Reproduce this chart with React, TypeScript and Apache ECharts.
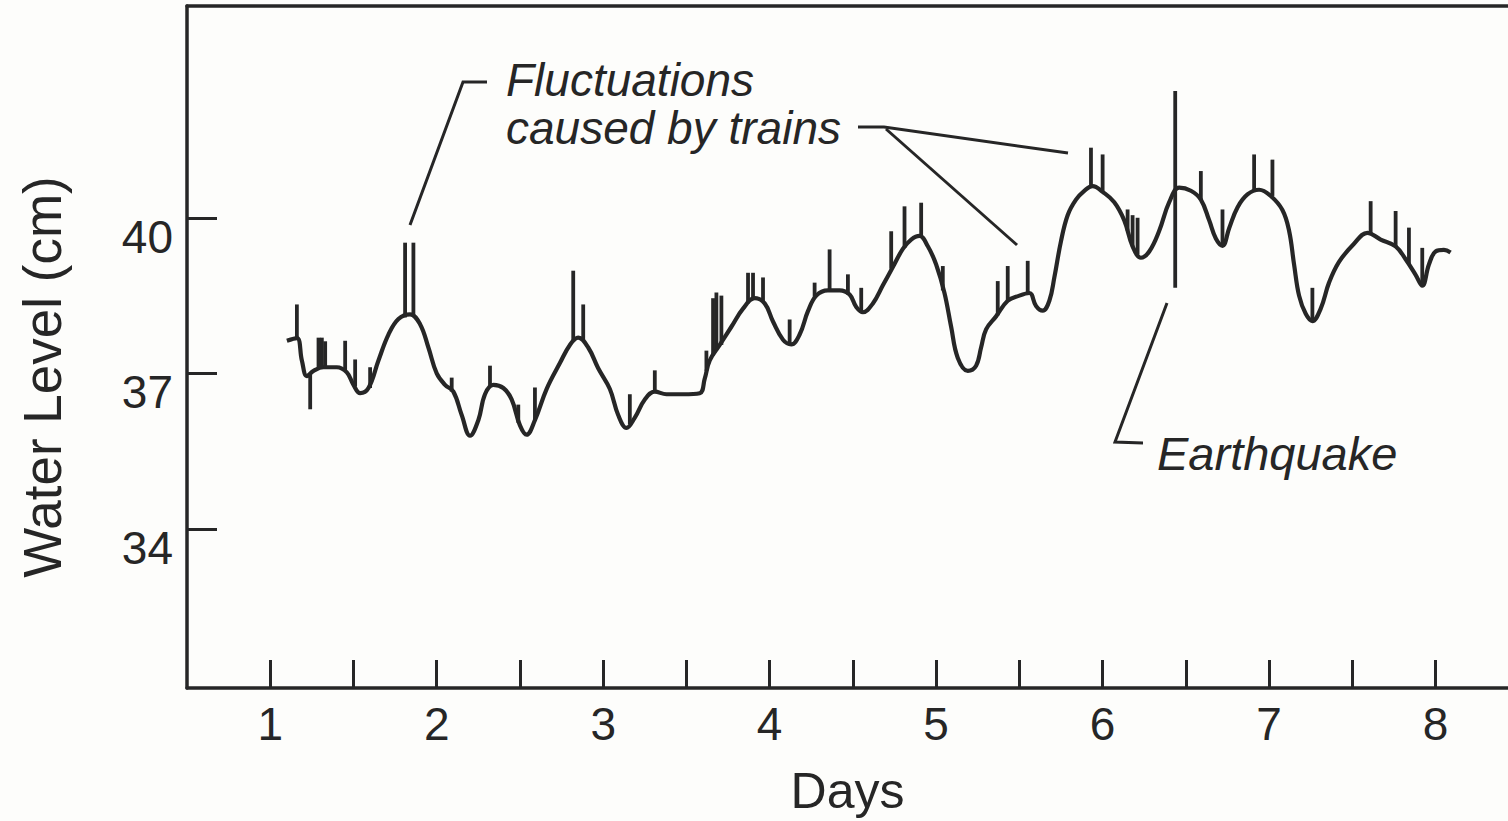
import React, { useEffect, useRef } from "react";
import * as echarts from "echarts";

// ---- data ----
const days = [
  1.10, 1.16, 1.19, 1.22, 1.26, 1.32, 1.40, 1.46, 1.50, 1.54, 1.59, 1.65, 1.71, 1.77, 1.84, 1.90, 1.95,
  2.00, 2.05, 2.10, 2.15, 2.20, 2.25, 2.29, 2.34, 2.40, 2.45, 2.50, 2.54, 2.59, 2.66, 2.74, 2.80, 2.85,
  2.91, 2.97, 3.04, 3.09, 3.14, 3.19, 3.25, 3.31, 3.38, 3.48, 3.58, 3.61, 3.64, 3.70, 3.77, 3.84, 3.91,
  3.97, 4.02, 4.08, 4.13, 4.18, 4.23, 4.28, 4.35, 4.42, 4.48, 4.52, 4.56, 4.62, 4.68, 4.74, 4.80, 4.85,
  4.90, 4.95, 5.00, 5.05, 5.09, 5.13, 5.19, 5.24, 5.27, 5.30, 5.36, 5.43, 5.50, 5.56, 5.60, 5.64, 5.68,
  5.71, 5.75, 5.79, 5.84, 5.89, 5.94, 6.00, 6.07, 6.13, 6.18, 6.23, 6.28, 6.34, 6.40, 6.46, 6.53, 6.59,
  6.64, 6.68, 6.72, 6.76, 6.81, 6.87, 6.94, 7.01, 7.08, 7.12, 7.15, 7.18, 7.22, 7.26, 7.31, 7.36, 7.42,
  7.51, 7.59, 7.67, 7.76, 7.82, 7.88, 7.92, 7.96, 8.00, 8.05, 8.09,
];
const level = [
  37.63, 37.68, 37.25, 36.95, 37.05, 37.12, 37.12, 37.02, 36.78, 36.62, 36.72, 37.25, 37.75, 38.05, 38.14, 37.95, 37.50,
  37.00, 36.78, 36.65, 36.20, 35.80, 36.10, 36.60, 36.78, 36.72, 36.50, 36.00, 35.82, 36.10, 36.70, 37.20, 37.55, 37.69,
  37.50, 37.10, 36.70, 36.20, 35.95, 36.15, 36.50, 36.65, 36.60, 36.60, 36.62, 36.90, 37.25, 37.55, 37.90, 38.25, 38.45,
  38.35, 38.00, 37.65, 37.56, 37.75, 38.20, 38.50, 38.60, 38.60, 38.52, 38.28, 38.18, 38.35, 38.70, 39.05, 39.40, 39.58,
  39.65, 39.45, 39.10, 38.55, 37.90, 37.30, 37.05, 37.15, 37.50, 37.85, 38.10, 38.40, 38.50, 38.55, 38.30, 38.21, 38.40,
  38.85, 39.55, 40.05, 40.35, 40.52, 40.61, 40.50, 40.30, 39.95, 39.45, 39.23, 39.35, 39.75, 40.30, 40.58, 40.52, 40.35,
  39.95, 39.60, 39.46, 39.80, 40.20, 40.45, 40.54, 40.42, 40.15, 39.75, 39.10, 38.50, 38.15, 38.01, 38.25, 38.75, 39.15,
  39.50, 39.71, 39.58, 39.45, 39.20, 38.90, 38.69, 39.10, 39.35, 39.38, 39.33,
];

// short vertical excursions (train fluctuations, and the earthquake at ~6.44)
const spikeDays = [
  1.16, 1.24, 1.29, 1.31, 1.33, 1.45, 1.51, 1.60, 1.81, 1.86, 2.09, 2.32, 2.49, 2.59, 2.82, 2.88,
  3.16, 3.31, 3.62, 3.66, 3.68, 3.71, 3.87, 3.90, 3.96, 4.12, 4.27, 4.36, 4.47, 4.55, 4.73, 4.81,
  4.91, 5.04, 5.37, 5.43, 5.55, 5.93, 6.00, 6.15, 6.18, 6.21, 6.436, 6.59, 6.72, 6.91, 7.02, 7.26,
  7.61, 7.76, 7.84, 7.92,
];
const spikeFrom = [
  37.68, 36.98, 37.10, 37.10, 37.12, 37.05, 36.75, 36.72, 38.08, 38.10, 36.65, 36.76, 36.05, 36.10, 37.62, 37.65,
  36.02, 36.65, 37.05, 37.35, 37.45, 37.55, 38.35, 38.42, 38.38, 37.56, 38.48, 38.60, 38.52, 38.20, 39.02, 39.42,
  39.63, 38.60, 38.12, 38.40, 38.55, 40.60, 40.50, 39.75, 39.45, 39.30, 38.65, 40.35, 39.46, 40.52, 40.42, 38.01,
  39.70, 39.45, 39.10, 38.69,
];
const spikeTo = [
  38.33, 36.31, 37.69, 37.69, 37.62, 37.63, 37.27, 37.12, 39.52, 39.52, 36.92, 37.15, 36.40, 36.73, 38.98, 38.33,
  36.60, 37.06, 37.44, 38.45, 38.56, 38.50, 38.94, 38.94, 38.85, 38.04, 38.75, 39.39, 38.91, 38.65, 39.74, 40.22,
  40.29, 39.07, 38.78, 39.07, 39.17, 41.35, 41.22, 40.16, 40.05, 40.00, 42.44, 40.90, 40.16, 41.22, 41.12, 38.65,
  40.32, 40.13, 39.81, 39.42,
];

const xLabelValues = [1, 2, 3, 4, 5, 6, 7, 8];
const xTickValues = [1, 1.5, 2, 2.5, 3, 3.5, 4, 4.5, 5, 5.5, 6, 6.5, 7, 7.5, 8];
const yTickValues = [34, 37, 40];

const FONT = '"Liberation Sans", Arial, Helvetica, sans-serif';
const INK = "#262626";
const BG = "#fdfdfb";

export default function App() {
  const ref = useRef<HTMLDivElement>(null);

  useEffect(() => {
    if (!ref.current) return;
    const chart = echarts.init(ref.current, undefined, { renderer: "svg" });

    const baseData = days.map((d, i) => [d, level[i]]);
    const spikeData = spikeDays.map((d, i) => [d, spikeFrom[i], spikeTo[i]]);

    const axisLineStyle = { color: INK, width: 3.5 };

    chart.setOption({
      animation: false,
      backgroundColor: BG,
      grid: { left: 187, right: 0, top: 6, bottom: 124, containLabel: false },
      xAxis: [
        {
          type: "value",
          min: 0.5,
          max: 8.435,
          position: "bottom",
          axisLine: { show: true, lineStyle: axisLineStyle },
          axisTick: {
            show: true,
            inside: true,
            length: 28,
            customValues: xTickValues,
            lineStyle: { color: INK, width: 3 },
          },
          axisLabel: {
            show: true,
            customValues: xLabelValues,
            margin: 13,
            color: INK,
            fontFamily: FONT,
            fontSize: 46,
          },
          splitLine: { show: false },
          name: "Days",
          nameLocation: "middle",
          nameGap: 78,
          nameTextStyle: { color: INK, fontFamily: FONT, fontSize: 50 },
        },
        {
          type: "value",
          min: 0.5,
          max: 8.435,
          position: "top",
          axisLine: { show: true, onZero: false, lineStyle: axisLineStyle },
          axisTick: { show: false },
          axisLabel: { show: false },
          splitLine: { show: false },
        },
      ],
      yAxis: {
        type: "value",
        min: 30.94,
        max: 44.08,
        axisLine: { show: true, onZero: false, lineStyle: axisLineStyle },
        axisTick: {
          show: true,
          inside: true,
          length: 30,
          customValues: yTickValues,
          lineStyle: { color: INK, width: 3 },
        },
        axisLabel: {
          show: true,
          customValues: yTickValues,
          margin: 14,
          color: INK,
          fontFamily: FONT,
          fontSize: 46,
          lineHeight: 38,
          verticalAlign: "top",
        },
        splitLine: { show: false },
      },
      series: [
        {
          type: "line",
          xAxisIndex: 0,
          data: baseData,
          smooth: 0.4,
          showSymbol: false,
          symbol: "none",
          lineStyle: { color: INK, width: 4.2 },
          z: 3,
        },
        {
          type: "custom",
          xAxisIndex: 0,
          data: spikeData,
          encode: { x: 0, y: [1, 2] },
          renderItem: (params: any, api: any) => {
            const p1 = api.coord([api.value(0), api.value(1)]);
            const p2 = api.coord([api.value(0), api.value(2)]);
            return {
              type: "line",
              shape: { x1: p1[0], y1: p1[1], x2: p2[0], y2: p2[1] },
              style: { stroke: INK, lineWidth: 3.8, lineCap: "butt" },
            };
          },
          z: 4,
        },
      ],
      graphic: [
        {
          type: "text",
          x: 42,
          y: 377,
          rotation: Math.PI / 2,
          style: {
            text: "Water Level (cm)",
            fill: INK,
            font: `53px ${FONT}`,
            align: "center",
            verticalAlign: "middle",
          },
        },
        {
          type: "text",
          x: 506,
          y: 80,
          style: {
            text: "Fluctuations",
            fill: INK,
            font: `italic 46px ${FONT}`,
            align: "left",
            verticalAlign: "middle",
          },
        },
        {
          type: "text",
          x: 506,
          y: 128,
          style: {
            text: "caused by trains",
            fill: INK,
            font: `italic 46px ${FONT}`,
            align: "left",
            verticalAlign: "middle",
          },
        },
        {
          type: "text",
          x: 1157,
          y: 453,
          style: {
            text: "Earthquake",
            fill: INK,
            font: `italic 47px ${FONT}`,
            align: "left",
            verticalAlign: "middle",
          },
        },
        {
          type: "polyline",
          shape: { points: [[487, 82], [463, 82], [410, 225]] },
          style: { stroke: INK, lineWidth: 3, fill: "none" },
        },
        {
          type: "polyline",
          shape: { points: [[858, 127], [884, 127], [1068, 153]] },
          style: { stroke: INK, lineWidth: 3, fill: "none" },
        },
        {
          type: "line",
          shape: { x1: 886, y1: 129, x2: 1017, y2: 245 },
          style: { stroke: INK, lineWidth: 3 },
        },
        {
          type: "polyline",
          shape: { points: [[1167, 303], [1115, 442], [1143, 443]] },
          style: { stroke: INK, lineWidth: 3, fill: "none" },
        },
      ],
    });

    return () => chart.dispose();
  }, []);

  return (
    <div
      style={{
        position: "absolute",
        left: 0,
        top: 0,
        width: 1508,
        height: 821,
        overflow: "hidden",
        background: BG,
      }}
    >
      <div ref={ref} style={{ width: 1508, height: 821 }} />
    </div>
  );
}
